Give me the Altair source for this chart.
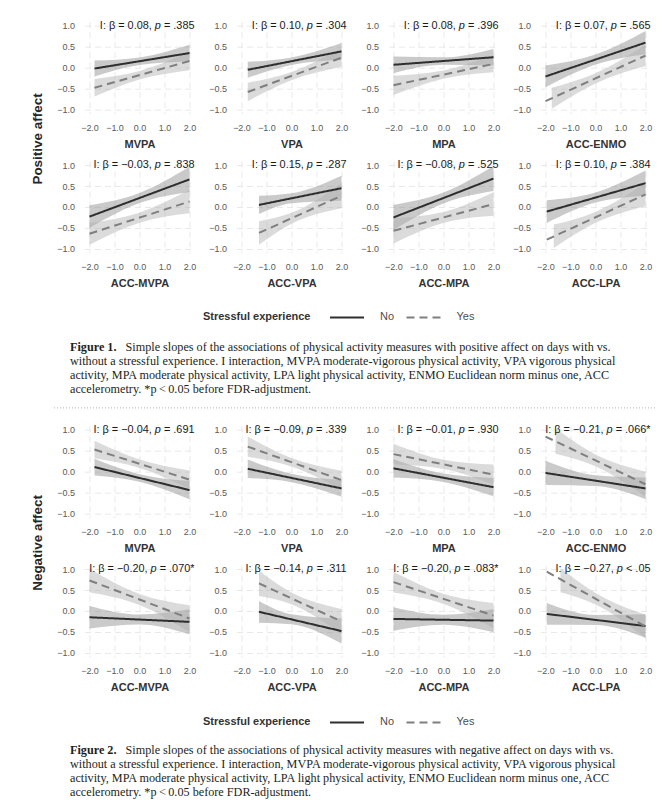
import altair as alt
import pandas as pd

PANELS = ["MVPA", "VPA", "MPA", "ACC-ENMO", "ACC-MVPA", "ACC-VPA", "ACC-MPA", "ACC-LPA"]
GROUPS = ["No", "Yes"]

# interaction labels, split around the italic "p"
POS_HEADS = ["I: β = 0.08,", "I: β = 0.10,", "I: β = 0.08,", "I: β = 0.07,",
             "I: β = −0.03,", "I: β = 0.15,", "I: β = −0.08,", "I: β = 0.10,"]
POS_TAILS = ["= .385", "= .304", "= .396", "= .565", "= .838", "= .287", "= .525", "= .384"]
NEG_HEADS = ["I: β = −0.04,", "I: β = −0.09,", "I: β = −0.01,", "I: β = −0.21,",
             "I: β = −0.20,", "I: β = −0.14,", "I: β = −0.20,", "I: β = −0.27,"]
NEG_TAILS = ["= .691", "= .339", "= .930", "= .066*", "= .070*", "= .311", "= .083*", "< .05"]

# fitted lines: [x_start, y_start, x_end, y_end]
POS_NO_LINE = [[-1.8, -0.02, 2.0, 0.35], [-1.75, -0.05, 2.0, 0.39], [-2.0, 0.07, 2.0, 0.25], [-2.0, -0.21, 2.0, 0.60],
               [-2.0, -0.23, 2.0, 0.66], [-1.3, 0.05, 2.0, 0.45], [-2.0, -0.25, 2.0, 0.68], [-1.95, -0.11, 2.0, 0.57]]
POS_YES_LINE = [[-1.8, -0.48, 2.0, 0.16], [-1.75, -0.58, 2.0, 0.24], [-2.0, -0.42, 2.0, 0.09], [-2.0, -0.80, 2.0, 0.29],
                [-2.0, -0.64, 2.0, 0.13], [-1.3, -0.62, 2.0, 0.27], [-2.0, -0.57, 2.0, 0.07], [-1.95, -0.78, 2.0, 0.30]]
NEG_NO_LINE = [[-1.8, 0.11, 2.0, -0.44], [-1.75, 0.07, 2.0, -0.40], [-2.0, 0.08, 2.0, -0.37], [-2.0, -0.03, 2.0, -0.40],
               [-2.0, -0.15, 2.0, -0.26], [-1.3, -0.02, 2.0, -0.48], [-2.0, -0.19, 2.0, -0.23], [-1.95, -0.07, 2.0, -0.36]]
NEG_YES_LINE = [[-1.8, 0.53, 2.0, -0.19], [-1.75, 0.60, 2.0, -0.20], [-2.0, 0.42, 2.0, -0.07], [-2.0, 0.84, 2.0, -0.30],
                [-2.0, 0.73, 2.0, -0.18], [-1.3, 0.66, 2.0, -0.25], [-2.0, 0.69, 2.0, -0.11], [-1.95, 0.94, 2.0, -0.37]]

# confidence bands: [x_start, lo_start, hi_start, lo_at_0, hi_at_0, lo_end, hi_end]
POS_NO_BAND = [[-1.8, -0.21, 0.17, 0.065, 0.245, 0.15, 0.55], [-1.75, -0.24, 0.14, 0.065, 0.245, 0.19, 0.59],
               [-2.0, -0.13, 0.27, 0.07, 0.25, 0.05, 0.45], [-2.0, -0.47, 0.05, 0.075, 0.315, 0.32, 0.88],
               [-2.0, -0.50, 0.04, 0.095, 0.335, 0.36, 0.96], [-1.3, -0.17, 0.27, 0.09, 0.33, 0.15, 0.75],
               [-2.0, -0.55, 0.05, 0.085, 0.345, 0.38, 0.98], [-1.95, -0.38, 0.16, 0.105, 0.345, 0.27, 0.87]]
POS_YES_BAND = [[-1.8, -0.69, -0.27, -0.28, -0.08, -0.06, 0.38], [-1.75, -0.80, -0.36, -0.30, -0.10, 0.02, 0.46],
                [-2.0, -0.65, -0.19, -0.265, -0.065, -0.11, 0.29], [-1.75, -0.98, -0.48, -0.375, -0.135, 0.04, 0.54],
                [-2.0, -0.90, -0.38, -0.375, -0.135, -0.15, 0.41], [-1.3, -0.90, -0.34, -0.40, -0.14, -0.03, 0.57],
                [-2.0, -0.87, -0.27, -0.38, -0.12, -0.21, 0.35], [-1.67, -0.98, -0.42, -0.377, -0.117, 0.02, 0.58]]
NEG_NO_BAND = [[-1.8, -0.09, 0.31, -0.24, -0.06, -0.66, -0.22], [-1.75, -0.15, 0.29, -0.25, -0.05, -0.60, -0.20],
               [-2.0, -0.14, 0.30, -0.245, -0.045, -0.59, -0.15], [-2.0, -0.32, 0.26, -0.345, -0.085, -0.66, -0.14],
               [-2.0, -0.42, 0.12, -0.325, -0.085, -0.56, 0.04], [-1.3, -0.28, 0.24, -0.32, -0.08, -0.78, -0.18],
               [-2.0, -0.47, 0.09, -0.33, -0.09, -0.51, 0.05], [-1.95, -0.33, 0.19, -0.335, -0.095, -0.64, -0.08]]
NEG_YES_BAND = [[-1.8, 0.32, 0.74, 0.09, 0.29, -0.41, 0.03], [-1.75, 0.36, 0.84, 0.127, 0.327, -0.42, 0.02],
                [-2.0, 0.17, 0.67, 0.065, 0.285, -0.31, 0.17], [-1.6, 0.43, 1.03, 0.13, 0.41, -0.60, 0.0],
                [-2.0, 0.45, 1.01, 0.145, 0.405, -0.50, 0.14], [-1.3, 0.36, 0.96, 0.16, 0.44, -0.55, 0.05],
                [-2.0, 0.44, 0.94, 0.17, 0.41, -0.41, 0.19], [-1.4, 0.45, 1.02, 0.153, 0.433, -0.65, -0.09]]

X_TICKS = [-2, -1, 0, 1, 2]
Y_TICKS = [-1, -0.5, 0, 0.5, 1]

CAP1 = ["Simple slopes of the associations of physical activity measures with positive affect on days with vs.",
        "without a stressful experience. I interaction, MVPA moderate-vigorous physical activity, VPA vigorous physical",
        "activity, MPA moderate physical activity, LPA light physical activity, ENMO Euclidean norm minus one, ACC",
        "accelerometry. *p\u2009<\u20090.05 before FDR-adjustment."]
CAP2 = ["Simple slopes of the associations of physical activity measures with negative affect on days with vs.",
        "without a stressful experience. I interaction, MVPA moderate-vigorous physical activity, VPA vigorous physical",
        "activity, MPA moderate physical activity, LPA light physical activity, ENMO Euclidean norm minus one, ACC",
        "accelerometry. *p\u2009<\u20090.05 before FDR-adjustment."]

SANS = "Liberation Sans"
SERIF = "Liberation Serif"
ANNOT_SIZE = 10.9
# advance widths (em) of Liberation Sans glyphs used in the label tails
CHAR_W = {" ": 0.278, "=": 0.584, "<": 0.584, ".": 0.278, ",": 0.278, "*": 0.389, "p": 0.556,
          **{d: 0.556 for d in "0123456789"}}


def text_w(s):
    return sum(CHAR_W[c] for c in s) * ANNOT_SIZE


XS = alt.Scale(domain=[-2.2, 2.2], nice=False, zero=False)
YS = alt.Scale(domain=[-1.1, 1.1], nice=False, zero=False)
STROKE_SCALE = alt.Scale(domain=GROUPS, range=["#2e2e2e", "#7f7f7f"])
DASH_SCALE = alt.Scale(domain=GROUPS, range=[[1, 0], [8, 5]])
FILL_SCALE = alt.Scale(domain=GROUPS, range=["#8a8a8a", "#b0b0b0"])


def build_frames(no_line, yes_line, no_band, yes_band):
    lrows, brows = [], []
    for i, p in enumerate(PANELS):
        for g, lines, bands in (("No", no_line, no_band), ("Yes", yes_line, yes_band)):
            x0, y0, x1, y1 = lines[i]
            lrows.append(dict(panel=p, group=g, x=x0, y=y0))
            lrows.append(dict(panel=p, group=g, x=x1, y=y1))
            bx0, lo0, hi0, lom, him, lo1, hi1 = bands[i]
            brows.append(dict(panel=p, group=g, x=bx0, lo=lo0, hi=hi0))
            brows.append(dict(panel=p, group=g, x=0.0, lo=lom, hi=him))
            brows.append(dict(panel=p, group=g, x=x1, lo=lo1, hi=hi1))
    return pd.DataFrame(lrows), pd.DataFrame(brows)


def panel(ldf, bdf, name, head, tail):
    xax = alt.Axis(values=X_TICKS, format=".1f", title=name)
    yax = alt.Axis(values=Y_TICKS, format=".1f", title=None)
    band = alt.Chart(bdf[bdf.panel == name]).mark_area(interpolate="monotone", opacity=0.45).encode(
        x=alt.X("x:Q", scale=XS, axis=xax),
        y=alt.Y("lo:Q", scale=YS, axis=yax),
        y2="hi:Q",
        fill=alt.Fill("group:N", scale=FILL_SCALE, legend=None),
    )
    line = alt.Chart(ldf[ldf.panel == name]).mark_line(strokeWidth=2).encode(
        x=alt.X("x:Q", scale=XS, axis=xax),
        y=alt.Y("y:Q", scale=YS, axis=yax),
        stroke=alt.Stroke("group:N", scale=STROKE_SCALE, legend=None),
        strokeDash=alt.StrokeDash("group:N", scale=DASH_SCALE, legend=None),
    )
    lab = pd.DataFrame({"head": [head], "p": ["p"], "tail": [tail]})
    tstyle = dict(align="right", baseline="middle", font=SANS, fontSize=ANNOT_SIZE, color="#1a1a1a")
    xpos = alt.XDatum(2.2, scale=XS, axis=xax)
    ypos = alt.YDatum(1.0, scale=YS, axis=yax)
    w_tail = text_w(" " + tail)
    t_tail = alt.Chart(lab).mark_text(**tstyle).encode(x=xpos, y=ypos, text="tail:N")
    t_p = alt.Chart(lab).mark_text(fontStyle="italic", dx=-w_tail, **tstyle).encode(x=xpos, y=ypos, text="p:N")
    t_head = alt.Chart(lab).mark_text(dx=-(w_tail + text_w(" p")), **tstyle).encode(x=xpos, y=ypos, text="head:N")
    return alt.layer(band, line, t_head, t_p, t_tail).properties(width=110, height=92)


def ytitle_chart(text):
    return alt.Chart(pd.DataFrame({"t": [text]})).mark_text(
        angle=270, align="center", baseline="middle", font=SANS, fontSize=13.5, fontWeight="bold", color="#262626"
    ).encode(x=alt.value(7), y=alt.value(117.2), text="t:N").properties(width=14, height=232)


def figure(no_line, yes_line, no_band, yes_band, heads, tails, ytitle):
    ldf, bdf = build_frames(no_line, yes_line, no_band, yes_band)
    r1 = alt.hconcat(*[panel(ldf, bdf, PANELS[i], heads[i], tails[i]) for i in range(4)],
                     spacing=42, bounds="flush")
    r2 = alt.hconcat(*[panel(ldf, bdf, PANELS[i], heads[i], tails[i]) for i in range(4, 8)],
                     spacing=42, bounds="flush")
    rows = alt.vconcat(r1, r2, spacing=9.3)
    return alt.hconcat(ytitle_chart(ytitle), rows, spacing=12)


def legend_chart(legend_y, height):
    leg = dict(title="Stressful experience", orient="none", legendX=172.5, legendY=legend_y,
               direction="horizontal", titleOrient="left", symbolType="stroke", symbolSize=1156,
               symbolStrokeWidth=2, labelOffset=15, columnPadding=7.5, titlePadding=18, padding=0,
               labelFont=SANS, labelFontSize=11, labelColor="#4d4d4d", titleFont=SANS, titleFontSize=11,
               titleFontWeight="bold", titleColor="#333333", titleBaseline="top")
    return alt.Chart(pd.DataFrame({"group": GROUPS})).transform_filter("false").mark_line().encode(
        x=alt.value(0), y=alt.value(0),
        stroke=alt.Stroke("group:N", scale=STROKE_SCALE, legend=alt.Legend(**leg)),
        strokeDash=alt.StrokeDash("group:N", scale=DASH_SCALE, legend=alt.Legend(**leg)),
    ).properties(width=560, height=height)


def caption_chart(fig_label, lines):
    df = pd.DataFrame({"line": [0, 1, 2, 3], "text": lines})
    y = alt.Y("line:O", axis=None, scale=alt.Scale(domain=[0, 1, 2, 3]))
    base = alt.Chart(df)
    style = dict(align="left", baseline="middle", font=SERIF, fontSize=12.2, color="#231f20")
    bold = base.transform_filter("datum.line == 0").mark_text(fontWeight="bold", **style).encode(
        x=alt.value(39.5), y=y, text=alt.value(fig_label))
    first = base.transform_filter("datum.line == 0").mark_text(dx=55.5, **style).encode(
        x=alt.value(39.5), y=y, text="text:N")
    rest = base.transform_filter("datum.line > 0").mark_text(**style).encode(
        x=alt.value(39.5), y=y, text="text:N")
    return alt.layer(bold, first, rest).properties(width=600, height=56)


def separator():
    return alt.Chart(pd.DataFrame({"v": [0]})).mark_rule(color="#b5b5b5", strokeDash=[1, 2], strokeWidth=1).encode(
        x=alt.value(23.5), x2=alt.value(625.5), y=alt.value(12.2)
    ).properties(width=626, height=27.5)


fig1 = figure(POS_NO_LINE, POS_YES_LINE, POS_NO_BAND, POS_YES_BAND, POS_HEADS, POS_TAILS, "Positive affect")
fig2 = figure(NEG_NO_LINE, NEG_YES_LINE, NEG_NO_BAND, NEG_YES_BAND, NEG_HEADS, NEG_TAILS, "Negative affect")

chart = alt.vconcat(
    fig1, legend_chart(10.7, 50.5), caption_chart("Figure 1.", CAP1), separator(),
    fig2, legend_chart(11.7, 49.7), caption_chart("Figure 2.", CAP2),
    spacing=0,
).resolve_scale(
    stroke="independent", strokeDash="independent", fill="independent"
).resolve_legend(
    stroke="independent", strokeDash="independent"
).properties(
    padding={"left": 21.5, "top": 11.7, "right": 0, "bottom": 0}, background="white"
).configure_view(stroke=None).configure_axis(
    labelFont=SANS, labelFontSize=9, labelColor="#595959", titleFont=SANS, titleFontSize=11,
    titleFontWeight="bold", titleColor="#333333", grid=True, gridColor="#e3e3e3", gridDash=[6, 4],
    gridWidth=0.8, domain=False, ticks=False, tickSize=0
).configure_axisX(labelPadding=9.7, titlePadding=6).configure_axisY(labelPadding=10)

chart.save("out.html", embed_options={"renderer": "svg", "actions": False})
